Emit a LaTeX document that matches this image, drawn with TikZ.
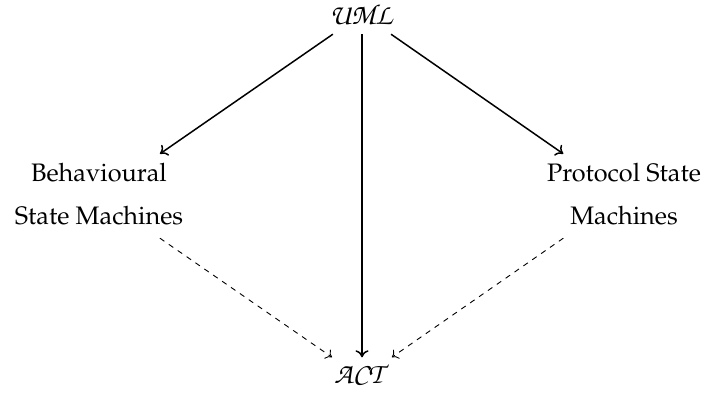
\documentclass[tikz,border=0pt]{standalone}
\usepackage[T1]{fontenc}
\usepackage{mathpazo}
\DeclareMathAlphabet{\pzcal}{OT1}{pzc}{m}{it}
\usetikzlibrary{arrows.meta}
\begin{document}
\begin{tikzpicture}[x=1pt,y=-1pt,
  lbl/.style={font=\fontsize{25.3}{42.3}\selectfont, align=center, anchor=base, inner ysep=0pt, inner xsep=8pt},
  callbl/.style={lbl, font=\fontsize{29}{30}\selectfont},
  arr/.style={line width=1.5pt, -{Computer Modern Rightarrow[length=7pt,width=13pt]}},
  darr/.style={line width=0.9pt, dash pattern=on 5.4pt off 5.4pt, -{Computer Modern Rightarrow[length=6pt,width=11pt]}}]
\useasboundingbox (0,0) rectangle (706,392);
% top and bottom of the diagram
\node[callbl, text height=30pt, text depth=10pt] (uml) at (362,24) {$\pzcal{UML}$};
\node[callbl, text height=25.5pt, text depth=15.5pt] (act) at (362,383) {$\pzcal{ACT}$};
% the two kinds of state machines (base anchor sits on the last line)
\node[lbl, text height=70pt, text depth=14pt] (bsm) at (99,224) {Behavioural\\State Machines};
\node[lbl, text height=70pt, text depth=14pt] (psm) at (624,224) {Protocol State\\Machines};
\draw[arr] (uml) -- (bsm);
\draw[arr] (uml) -- (psm);
\draw[arr] (uml) -- (act);
\draw[darr] (bsm) -- (act);
\draw[darr] (psm) -- (act);
\end{tikzpicture}
\end{document}
